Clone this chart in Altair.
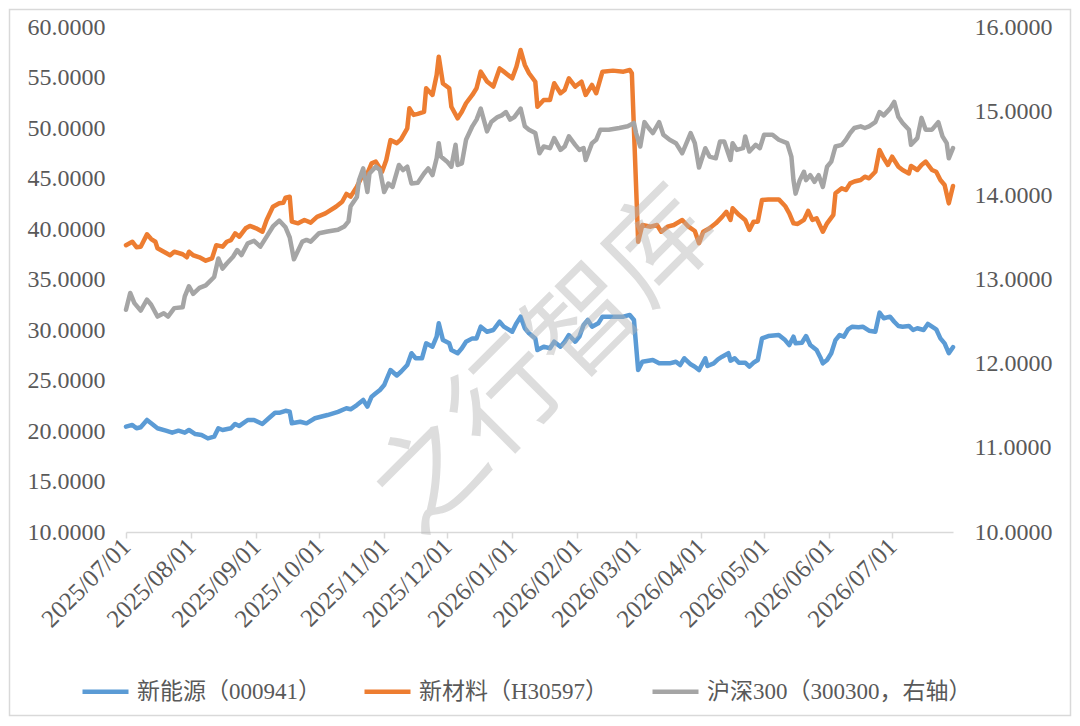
import altair as alt
import pandas as pd

SERIES = ["新能源（000941）", "新材料（H30597）", "沪深300（300300，右轴）"]
COLORS = ["#5B9BD5", "#ED7D31", "#A5A5A5"]

TICK_DATES = ["2025-07-01", "2025-08-01", "2025-09-01", "2025-10-01", "2025-11-01",
              "2025-12-01", "2026-01-01", "2026-02-01", "2026-03-01", "2026-04-01",
              "2026-05-01", "2026-06-01", "2026-07-01"]
X_START, X_END = "2025-07-01", "2026-07-30"
LEFT_TICKS = [10, 15, 20, 25, 30, 35, 40, 45, 50, 55, 60]
RIGHT_TICKS = [10, 11, 12, 13, 14, 15, 16]

blue_dates = [
    "2025-07-01", "2025-07-04", "2025-07-06", "2025-07-08", "2025-07-11", "2025-07-13",
    "2025-07-16", "2025-07-20", "2025-07-23", "2025-07-26", "2025-07-29", "2025-07-31",
    "2025-08-03", "2025-08-06", "2025-08-09", "2025-08-12", "2025-08-14", "2025-08-16",
    "2025-08-20", "2025-08-22", "2025-08-24", "2025-08-28", "2025-08-31", "2025-09-04",
    "2025-09-07", "2025-09-10", "2025-09-12", "2025-09-15", "2025-09-17", "2025-09-18",
    "2025-09-22", "2025-09-25", "2025-09-29", "2025-10-05", "2025-10-10", "2025-10-14",
    "2025-10-16", "2025-10-19", "2025-10-22", "2025-10-24", "2025-10-26", "2025-10-28",
    "2025-10-30", "2025-11-01", "2025-11-02", "2025-11-04", "2025-11-07", "2025-11-09",
    "2025-11-12", "2025-11-14", "2025-11-16", "2025-11-19", "2025-11-21", "2025-11-24",
    "2025-11-26", "2025-11-27", "2025-11-29", "2025-12-02", "2025-12-03", "2025-12-06",
    "2025-12-08", "2025-12-10", "2025-12-13", "2025-12-15", "2025-12-17", "2025-12-20",
    "2025-12-23", "2025-12-26", "2025-12-28", "2026-01-01", "2026-01-03", "2026-01-05",
    "2026-01-07", "2026-01-09", "2026-01-12", "2026-01-13", "2026-01-16", "2026-01-19",
    "2026-01-21", "2026-01-24", "2026-01-26", "2026-01-28", "2026-01-31", "2026-02-02",
    "2026-02-04", "2026-02-06", "2026-02-08", "2026-02-11", "2026-02-13", "2026-02-18",
    "2026-02-23", "2026-02-26", "2026-02-28", "2026-03-02", "2026-03-04", "2026-03-09",
    "2026-03-12", "2026-03-17", "2026-03-20", "2026-03-22", "2026-03-24", "2026-03-27",
    "2026-03-29", "2026-03-31", "2026-04-03", "2026-04-04", "2026-04-07", "2026-04-09",
    "2026-04-11", "2026-04-14", "2026-04-15", "2026-04-17", "2026-04-19", "2026-04-22",
    "2026-04-24", "2026-04-26", "2026-04-28", "2026-04-30", "2026-05-03", "2026-05-08",
    "2026-05-11", "2026-05-13", "2026-05-15", "2026-05-16", "2026-05-19", "2026-05-21",
    "2026-05-23", "2026-05-26", "2026-05-28", "2026-05-29", "2026-05-31", "2026-06-02",
    "2026-06-04", "2026-06-06", "2026-06-08", "2026-06-10", "2026-06-12", "2026-06-15",
    "2026-06-17", "2026-06-20", "2026-06-23", "2026-06-25", "2026-06-27", "2026-06-30",
    "2026-07-02", "2026-07-04", "2026-07-06", "2026-07-09", "2026-07-11", "2026-07-13",
    "2026-07-16", "2026-07-18", "2026-07-20", "2026-07-22", "2026-07-24", "2026-07-26",
    "2026-07-28", "2026-07-30"]
blue_vals = [
    20.43, 20.6, 20.27, 20.37, 21.09, 20.76,
    20.27, 20.03, 19.83, 20.03, 19.83, 20.1,
    19.7, 19.6, 19.27, 19.44, 20.27, 20.1,
    20.27, 20.7, 20.5, 21.09, 21.09, 20.7,
    21.26, 21.8, 21.8, 22.0, 21.9, 20.76,
    20.92, 20.76, 21.26, 21.58, 21.9, 22.25,
    22.15, 22.57, 23.07, 22.41, 23.4, 23.73,
    24.06, 24.55, 25.05, 26.04, 25.5, 25.87,
    26.53, 27.7, 27.2, 27.2, 28.68, 28.35,
    29.34, 30.66, 29.0, 28.68, 28.02, 27.7,
    28.19, 28.84, 29.17, 29.17, 30.33, 29.83,
    30.0, 30.82, 30.33, 29.83, 30.66, 31.32,
    30.17, 29.67, 29.17, 28.02, 28.35, 28.19,
    28.84, 28.35, 28.84, 29.5, 28.84, 29.34,
    30.5, 30.99, 30.33, 30.66, 31.32, 31.32,
    31.32, 31.49, 30.99, 26.04, 26.86, 27.03,
    26.7, 26.7, 26.86, 26.53, 27.2, 26.6,
    26.37, 26.04, 27.2, 26.44, 26.7, 27.1,
    27.36, 27.7, 26.96, 27.2, 26.76, 26.76,
    26.37, 26.76, 27.03, 29.17, 29.4, 29.5,
    29.0, 28.51, 29.34, 28.68, 28.74, 29.4,
    28.51, 28.02, 27.2, 26.7, 27.03, 27.7,
    29.0, 29.5, 29.34, 30.07, 30.33, 30.27,
    30.33, 29.93, 29.83, 31.72, 31.16, 31.32,
    30.82, 30.4, 30.33, 30.4, 30.0, 30.17,
    30.0, 30.6, 30.33, 30.07, 29.17, 28.68,
    27.7, 28.3]

orange_dates = [
    "2025-07-01", "2025-07-04", "2025-07-06", "2025-07-08", "2025-07-11", "2025-07-13",
    "2025-07-15", "2025-07-16", "2025-07-19", "2025-07-22", "2025-07-24", "2025-07-28",
    "2025-07-30", "2025-07-31", "2025-08-02", "2025-08-05", "2025-08-08", "2025-08-11",
    "2025-08-13", "2025-08-16", "2025-08-18", "2025-08-20", "2025-08-22", "2025-08-24",
    "2025-08-27", "2025-08-29", "2025-09-01", "2025-09-04", "2025-09-06", "2025-09-09",
    "2025-09-12", "2025-09-14", "2025-09-15", "2025-09-17", "2025-09-18", "2025-09-21",
    "2025-09-24", "2025-09-27", "2025-09-30", "2025-10-04", "2025-10-09", "2025-10-12",
    "2025-10-14", "2025-10-16", "2025-10-19", "2025-10-21", "2025-10-24", "2025-10-26",
    "2025-10-28", "2025-10-31", "2025-11-02", "2025-11-04", "2025-11-07", "2025-11-09",
    "2025-11-12", "2025-11-13", "2025-11-15", "2025-11-17", "2025-11-20", "2025-11-21",
    "2025-11-24", "2025-11-26", "2025-11-27", "2025-11-29", "2025-12-02", "2025-12-03",
    "2025-12-06", "2025-12-08", "2025-12-10", "2025-12-13", "2025-12-15", "2025-12-17",
    "2025-12-20", "2025-12-23", "2025-12-26", "2025-12-28", "2026-01-01", "2026-01-03",
    "2026-01-05", "2026-01-07", "2026-01-09", "2026-01-12", "2026-01-13", "2026-01-16",
    "2026-01-19", "2026-01-21", "2026-01-24", "2026-01-26", "2026-01-28", "2026-01-31",
    "2026-02-03", "2026-02-05", "2026-02-08", "2026-02-10", "2026-02-13", "2026-02-18",
    "2026-02-23", "2026-02-26", "2026-02-27", "2026-03-02", "2026-03-04", "2026-03-08",
    "2026-03-11", "2026-03-13", "2026-03-16", "2026-03-19", "2026-03-23", "2026-03-26",
    "2026-03-29", "2026-03-31", "2026-04-02", "2026-04-05", "2026-04-08", "2026-04-11",
    "2026-04-13", "2026-04-15", "2026-04-16", "2026-04-19", "2026-04-22", "2026-04-24",
    "2026-04-26", "2026-04-28", "2026-04-30", "2026-05-03", "2026-05-08", "2026-05-11",
    "2026-05-13", "2026-05-15", "2026-05-17", "2026-05-20", "2026-05-22", "2026-05-24",
    "2026-05-26", "2026-05-29", "2026-05-31", "2026-06-03", "2026-06-04", "2026-06-07",
    "2026-06-09", "2026-06-11", "2026-06-13", "2026-06-16", "2026-06-18", "2026-06-20",
    "2026-06-23", "2026-06-25", "2026-06-27", "2026-06-29", "2026-07-01", "2026-07-04",
    "2026-07-06", "2026-07-09", "2026-07-10", "2026-07-13", "2026-07-15", "2026-07-17",
    "2026-07-20", "2026-07-22", "2026-07-24", "2026-07-26", "2026-07-28", "2026-07-30"]
orange_vals = [
    38.4, 38.74, 38.2, 38.25, 39.47, 39.0,
    38.74, 38.1, 37.75, 37.4, 37.75, 37.5,
    37.2, 37.75, 37.4, 37.2, 36.86, 37.1,
    38.4, 38.25, 38.74, 38.9, 39.57, 39.24,
    40.07, 40.3, 40.07, 39.73, 40.89, 42.2,
    42.54, 42.6, 43.1, 43.2, 40.73, 40.56,
    40.89, 40.63, 41.2, 41.55, 42.2, 42.7,
    43.47, 43.2, 44.2, 45.02, 45.5, 46.5,
    46.67, 45.67, 46.83, 48.8, 48.5, 48.88,
    49.97, 51.95, 51.3, 51.4, 51.6, 53.93,
    53.27, 55.25, 57.06, 54.4, 53.93, 52.1,
    50.96, 51.6, 52.45, 53.27, 53.93, 55.58,
    54.6, 54.1, 55.9, 55.58, 54.92, 56.07,
    57.72, 56.24, 55.42, 54.58, 52.1, 52.77,
    52.77, 54.43, 53.44, 53.76, 54.92, 54.1,
    54.58, 53.27, 54.26, 53.44, 55.58, 55.68,
    55.58, 55.74, 55.42, 38.74, 40.4, 40.23,
    40.4, 39.73, 40.23, 40.4, 40.89, 40.23,
    39.8, 38.6, 39.73, 40.07, 40.56, 41.2,
    41.7, 40.9, 42.05, 41.4, 40.9, 39.9,
    40.73, 40.73, 42.87, 42.93, 42.93, 42.28,
    41.55, 40.56, 40.5, 40.9, 41.8, 40.9,
    41.06, 39.73, 40.56, 41.4, 43.53, 44.03,
    43.86, 44.52, 44.7, 44.85, 45.18, 45.02,
    45.67, 47.82, 47.0, 46.34, 47.16, 46.17,
    45.84, 45.5, 46.24, 45.84, 46.34, 46.67,
    45.84, 45.67, 44.85, 44.36, 42.54, 44.26]

hs300_dates = [
    "2025-07-01", "2025-07-03", "2025-07-05", "2025-07-08", "2025-07-11", "2025-07-13",
    "2025-07-16", "2025-07-19", "2025-07-21", "2025-07-24", "2025-07-28", "2025-07-29",
    "2025-07-31", "2025-08-02", "2025-08-05", "2025-08-08", "2025-08-12", "2025-08-14",
    "2025-08-16", "2025-08-18", "2025-08-21", "2025-08-23", "2025-08-25", "2025-08-28",
    "2025-08-31", "2025-09-03", "2025-09-06", "2025-09-09", "2025-09-12", "2025-09-15",
    "2025-09-17", "2025-09-19", "2025-09-23", "2025-09-25", "2025-09-27", "2025-10-01",
    "2025-10-05", "2025-10-10", "2025-10-13", "2025-10-15", "2025-10-16", "2025-10-19",
    "2025-10-20", "2025-10-22", "2025-10-24", "2025-10-25", "2025-10-28", "2025-10-30",
    "2025-11-01", "2025-11-03", "2025-11-05", "2025-11-08", "2025-11-10", "2025-11-12",
    "2025-11-14", "2025-11-17", "2025-11-20", "2025-11-22", "2025-11-24", "2025-11-26",
    "2025-11-27", "2025-11-28", "2025-12-01", "2025-12-03", "2025-12-05", "2025-12-06",
    "2025-12-08", "2025-12-10", "2025-12-13", "2025-12-15", "2025-12-17", "2025-12-20",
    "2025-12-22", "2025-12-25", "2025-12-27", "2025-12-29", "2025-12-31", "2026-01-02",
    "2026-01-05", "2026-01-07", "2026-01-09", "2026-01-12", "2026-01-14", "2026-01-16",
    "2026-01-19", "2026-01-21", "2026-01-24", "2026-01-26", "2026-01-28", "2026-01-31",
    "2026-02-02", "2026-02-04", "2026-02-05", "2026-02-08", "2026-02-10", "2026-02-12",
    "2026-02-16", "2026-02-21", "2026-02-25", "2026-02-28", "2026-03-01", "2026-03-03",
    "2026-03-05", "2026-03-07", "2026-03-09", "2026-03-12", "2026-03-14", "2026-03-17",
    "2026-03-20", "2026-03-23", "2026-03-27", "2026-03-29", "2026-03-31", "2026-04-03",
    "2026-04-05", "2026-04-08", "2026-04-10", "2026-04-12", "2026-04-15", "2026-04-16",
    "2026-04-18", "2026-04-21", "2026-04-22", "2026-04-24", "2026-04-27", "2026-04-29",
    "2026-05-01", "2026-05-05", "2026-05-08", "2026-05-12", "2026-05-14", "2026-05-15",
    "2026-05-16", "2026-05-18", "2026-05-20", "2026-05-21", "2026-05-23", "2026-05-25",
    "2026-05-27", "2026-05-29", "2026-05-31", "2026-06-02", "2026-06-04", "2026-06-07",
    "2026-06-09", "2026-06-11", "2026-06-13", "2026-06-16", "2026-06-18", "2026-06-20",
    "2026-06-23", "2026-06-25", "2026-06-27", "2026-06-30", "2026-07-02", "2026-07-04",
    "2026-07-06", "2026-07-09", "2026-07-10", "2026-07-13", "2026-07-15", "2026-07-17",
    "2026-07-20", "2026-07-23", "2026-07-25", "2026-07-27", "2026-07-28", "2026-07-30"]
hs300_vals = [
    12.64, 12.84, 12.72, 12.63, 12.76, 12.70,
    12.56, 12.60, 12.56, 12.66, 12.67, 12.80,
    12.92, 12.83, 12.90, 12.93, 13.03, 13.25,
    13.13, 13.19, 13.27, 13.35, 13.29, 13.43,
    13.46, 13.39, 13.51, 13.63, 13.70, 13.62,
    13.50, 13.24, 13.45, 13.47, 13.45, 13.55,
    13.57, 13.59, 13.63, 13.69, 13.87, 13.98,
    14.18, 14.32, 14.04, 14.26, 14.34, 14.30,
    14.04, 14.14, 14.10, 14.36, 14.30, 14.34,
    14.14, 14.15, 14.26, 14.32, 14.24, 14.44,
    14.62, 14.46, 14.40, 14.34, 14.60, 14.36,
    14.38, 14.66, 14.82, 14.90, 15.03, 14.76,
    14.87, 14.93, 14.95, 14.99, 14.90, 14.93,
    15.03, 14.82, 14.78, 14.74, 14.50, 14.58,
    14.56, 14.68, 14.54, 14.58, 14.70, 14.60,
    14.54, 14.56, 14.42, 14.62, 14.66, 14.78,
    14.78, 14.80, 14.82, 14.86, 14.74, 14.58,
    14.87, 14.80, 14.74, 14.87, 14.72, 14.66,
    14.62, 14.50, 14.74, 14.62, 14.33, 14.56,
    14.46, 14.44, 14.64, 14.64, 14.42, 14.62,
    14.54, 14.56, 14.70, 14.52, 14.60, 14.56,
    14.72, 14.72, 14.66, 14.62, 14.46, 14.18,
    14.02, 14.18, 14.28, 14.18, 14.24, 14.16,
    14.24, 14.10, 14.34, 14.40, 14.58, 14.60,
    14.66, 14.74, 14.80, 14.82, 14.80, 14.82,
    14.87, 14.99, 14.95, 15.03, 15.11, 14.93,
    14.86, 14.78, 14.60, 14.68, 14.92, 14.78,
    14.78, 14.87, 14.70, 14.62, 14.44, 14.56]

WATERMARK = "之行智库"


def ms(s):
    return int(pd.Timestamp(s, tz="UTC").timestamp() * 1000)


left_df = pd.DataFrame({
    "date": blue_dates + orange_dates,
    "value": blue_vals + orange_vals,
    "series": [SERIES[0]] * len(blue_dates) + [SERIES[1]] * len(orange_dates),
})
right_df = pd.DataFrame({
    "date": hs300_dates,
    "value": hs300_vals,
    "series": [SERIES[2]] * len(hs300_dates),
})

SERIF = "Liberation Serif, Noto Sans CJK SC"
TXT = "#595959"
W, H = 827, 505

x_enc = alt.X(
    "date:T",
    scale=alt.Scale(type="utc", domain=[ms(X_START), ms(X_END)]),
    axis=alt.Axis(
        values=[ms(d) for d in TICK_DATES], format="%Y/%m/%d", title=None,
        labelAngle=315, labelAlign="right", labelBaseline="middle",
        labelFlush=False, labelOverlap=False, labelPadding=4,
        labelFont=SERIF, labelFontSize=25, labelColor=TXT,
        domainColor="#d9d9d9", domainWidth=1.5, tickColor="#d9d9d9",
        tickSize=6, tickWidth=1.5, grid=False,
    ),
)

color_enc = alt.Color(
    "series:N",
    scale=alt.Scale(domain=SERIES, range=COLORS),
    legend=alt.Legend(
        title=None, orient="none", legendX=-46, legendY=639, direction="horizontal",
        symbolType="stroke", symbolStrokeWidth=4.5, symbolSize=2116,
        labelFont=SERIF, labelFontSize=23, labelColor=TXT, labelOffset=6,
        columnPadding=34, labelLimit=400,
    ),
)


def y_axis(orient, vals):
    return alt.Axis(
        orient=orient, values=vals, format=".4f", title=None, domain=False,
        ticks=False, grid=False, labelPadding=21, labelFont=SERIF,
        labelFontSize=24, labelColor=TXT,
    )


left = alt.Chart(left_df).mark_line(strokeWidth=4.5, strokeJoin="round", strokeCap="round").encode(
    x=x_enc,
    y=alt.Y("value:Q", scale=alt.Scale(domain=[10, 60], nice=False, zero=False),
            axis=y_axis("left", LEFT_TICKS)),
    color=color_enc,
)

right = alt.Chart(right_df).mark_line(strokeWidth=4.5, strokeJoin="round", strokeCap="round").encode(
    x=x_enc,
    y=alt.Y("value:Q", scale=alt.Scale(domain=[10, 16], nice=False, zero=False),
            axis=y_axis("right", RIGHT_TICKS)),
    color=color_enc,
)

frame = alt.Chart(pd.DataFrame({"a": [0]})).mark_rect(
    fillOpacity=0, stroke="#d9d9d9", strokeWidth=1.5
).encode(
    x=alt.value(-116.5), x2=alt.value(W + 117.5),
    y=alt.value(-17.5), y2=alt.value(H + 183.5),
)

watermark = alt.Chart(pd.DataFrame({"t": [WATERMARK]})).mark_text(
    angle=315, fontSize=108, font="Noto Sans CJK SC", color="#b4b4b4",
    opacity=0.45, align="center", baseline="middle",
).encode(text="t:N", x=alt.value(422), y=alt.value(336))

chart = alt.layer(frame, left, right, watermark).resolve_scale(
    y="independent"
).properties(
    width=W, height=H,
    autosize=alt.AutoSizeParams(type="none"),
    padding={"left": 118, "top": 19, "right": 119, "bottom": 186},
    background="white",
).configure_view(stroke=None)

chart.save("out.html", embed_options={"renderer": "svg", "actions": False})
